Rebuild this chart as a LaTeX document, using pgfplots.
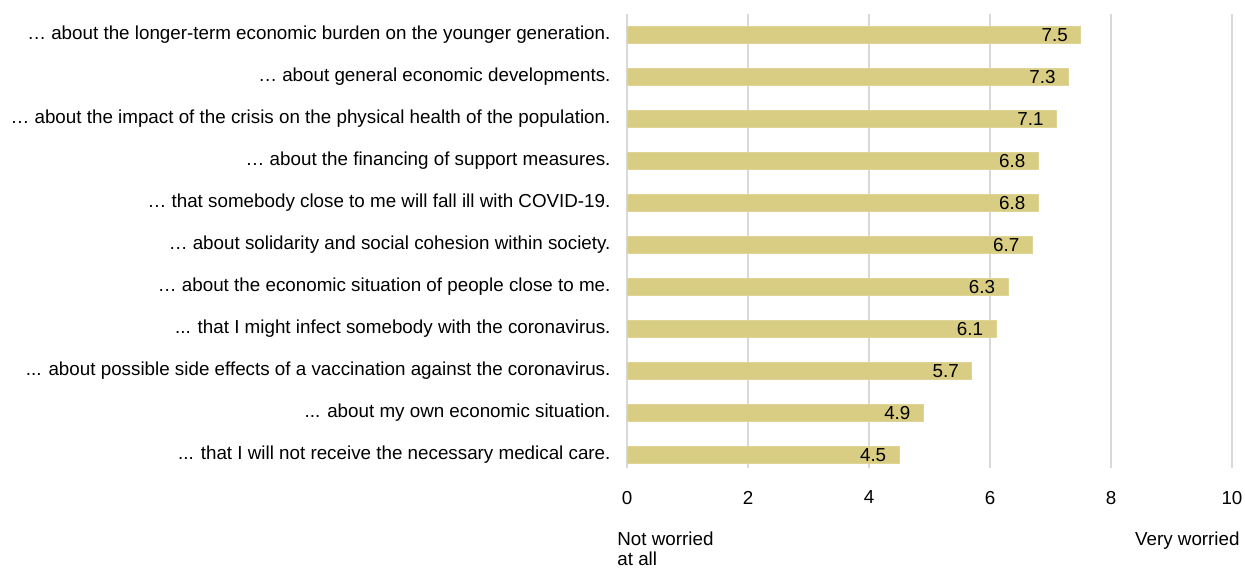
\documentclass[border=0pt]{standalone}
\usepackage{pgfplots}
\pgfplotsset{compat=1.18}
\usepackage{fontspec}
\setmainfont{Liberation Sans}
\definecolor{barc}{HTML}{D8CD82}
\definecolor{gridc}{HTML}{D9D9D9}
\newcommand{\td}{.{}.{}.}
\begin{document}
\begin{tikzpicture}
\begin{axis}[
  name=ax,
  at={(0,0)}, anchor=south west,
  scale only axis,
  width=302.5bp, height=227bp,
  xbar, bar width=8.5bp,
  xmin=0, xmax=10,
  ymin=-0.31, ymax=10.5,
  xtick={0,2,4,6,8,10},
  ytick={0,1,2,3,4,5,6,7,8,9,10},
  yticklabels={
    {\td{} that I will not receive the necessary medical care.},
    {\td{} about my own economic situation.},
    {\td{} about possible side effects of a vaccination against the coronavirus.},
    {\td{} that I might infect somebody with the coronavirus.},
    {… about the economic situation of people close to me.},
    {… about solidarity and social cohesion within society.},
    {… that somebody close to me will fall ill with COVID-19.},
    {… about the financing of support measures.},
    {… about the impact of the crisis on the physical health of the population.},
    {… about general economic developments.},
    {… about the longer-term economic burden on the younger generation.}},
  axis line style={draw=none},
  tick style={draw=none},
  xmajorgrids, grid style={gridc, line width=0.8bp},
  yticklabel style={font=\fontsize{9.4bp}{11bp}\selectfont, xshift=-0.5bp},
  xticklabel style={font=\fontsize{9.4bp}{11bp}\selectfont, yshift=-8bp},
  /pgf/number format/assume math mode=true,
  clip=false,
  nodes near coords,
  nodes near coords style={anchor=east, xshift=-3bp, font=\fontsize{9.4bp}{11bp}\selectfont, text=black},
  every node near coord/.append style={/pgf/number format/fixed, /pgf/number format/precision=1, /pgf/number format/fixed zerofill},
]
\addplot[fill=barc, draw=barc!85!white] coordinates {
  (4.5,0) (4.9,1) (5.7,2) (6.1,3) (6.3,4) (6.7,5) (6.8,6) (6.8,7) (7.1,8) (7.3,9) (7.5,10)
};
\end{axis}
\node[anchor=north west, align=left, inner sep=0pt, font=\fontsize{9.4bp}{10bp}\selectfont] at ([xshift=-5bp, yshift=-31.5bp]ax.south west) {Not worried\\at all};
\node[anchor=north east, align=right, inner sep=0pt, font=\fontsize{9.4bp}{10bp}\selectfont] at ([xshift=4bp, yshift=-31.5bp]ax.south east) {Very worried};
\pgfresetboundingbox
\path[use as bounding box] ([xshift=-313.5bp, yshift=-50bp]ax.south west) rectangle ([xshift=309bp, yshift=234bp]ax.south west);
\end{tikzpicture}
\end{document}
